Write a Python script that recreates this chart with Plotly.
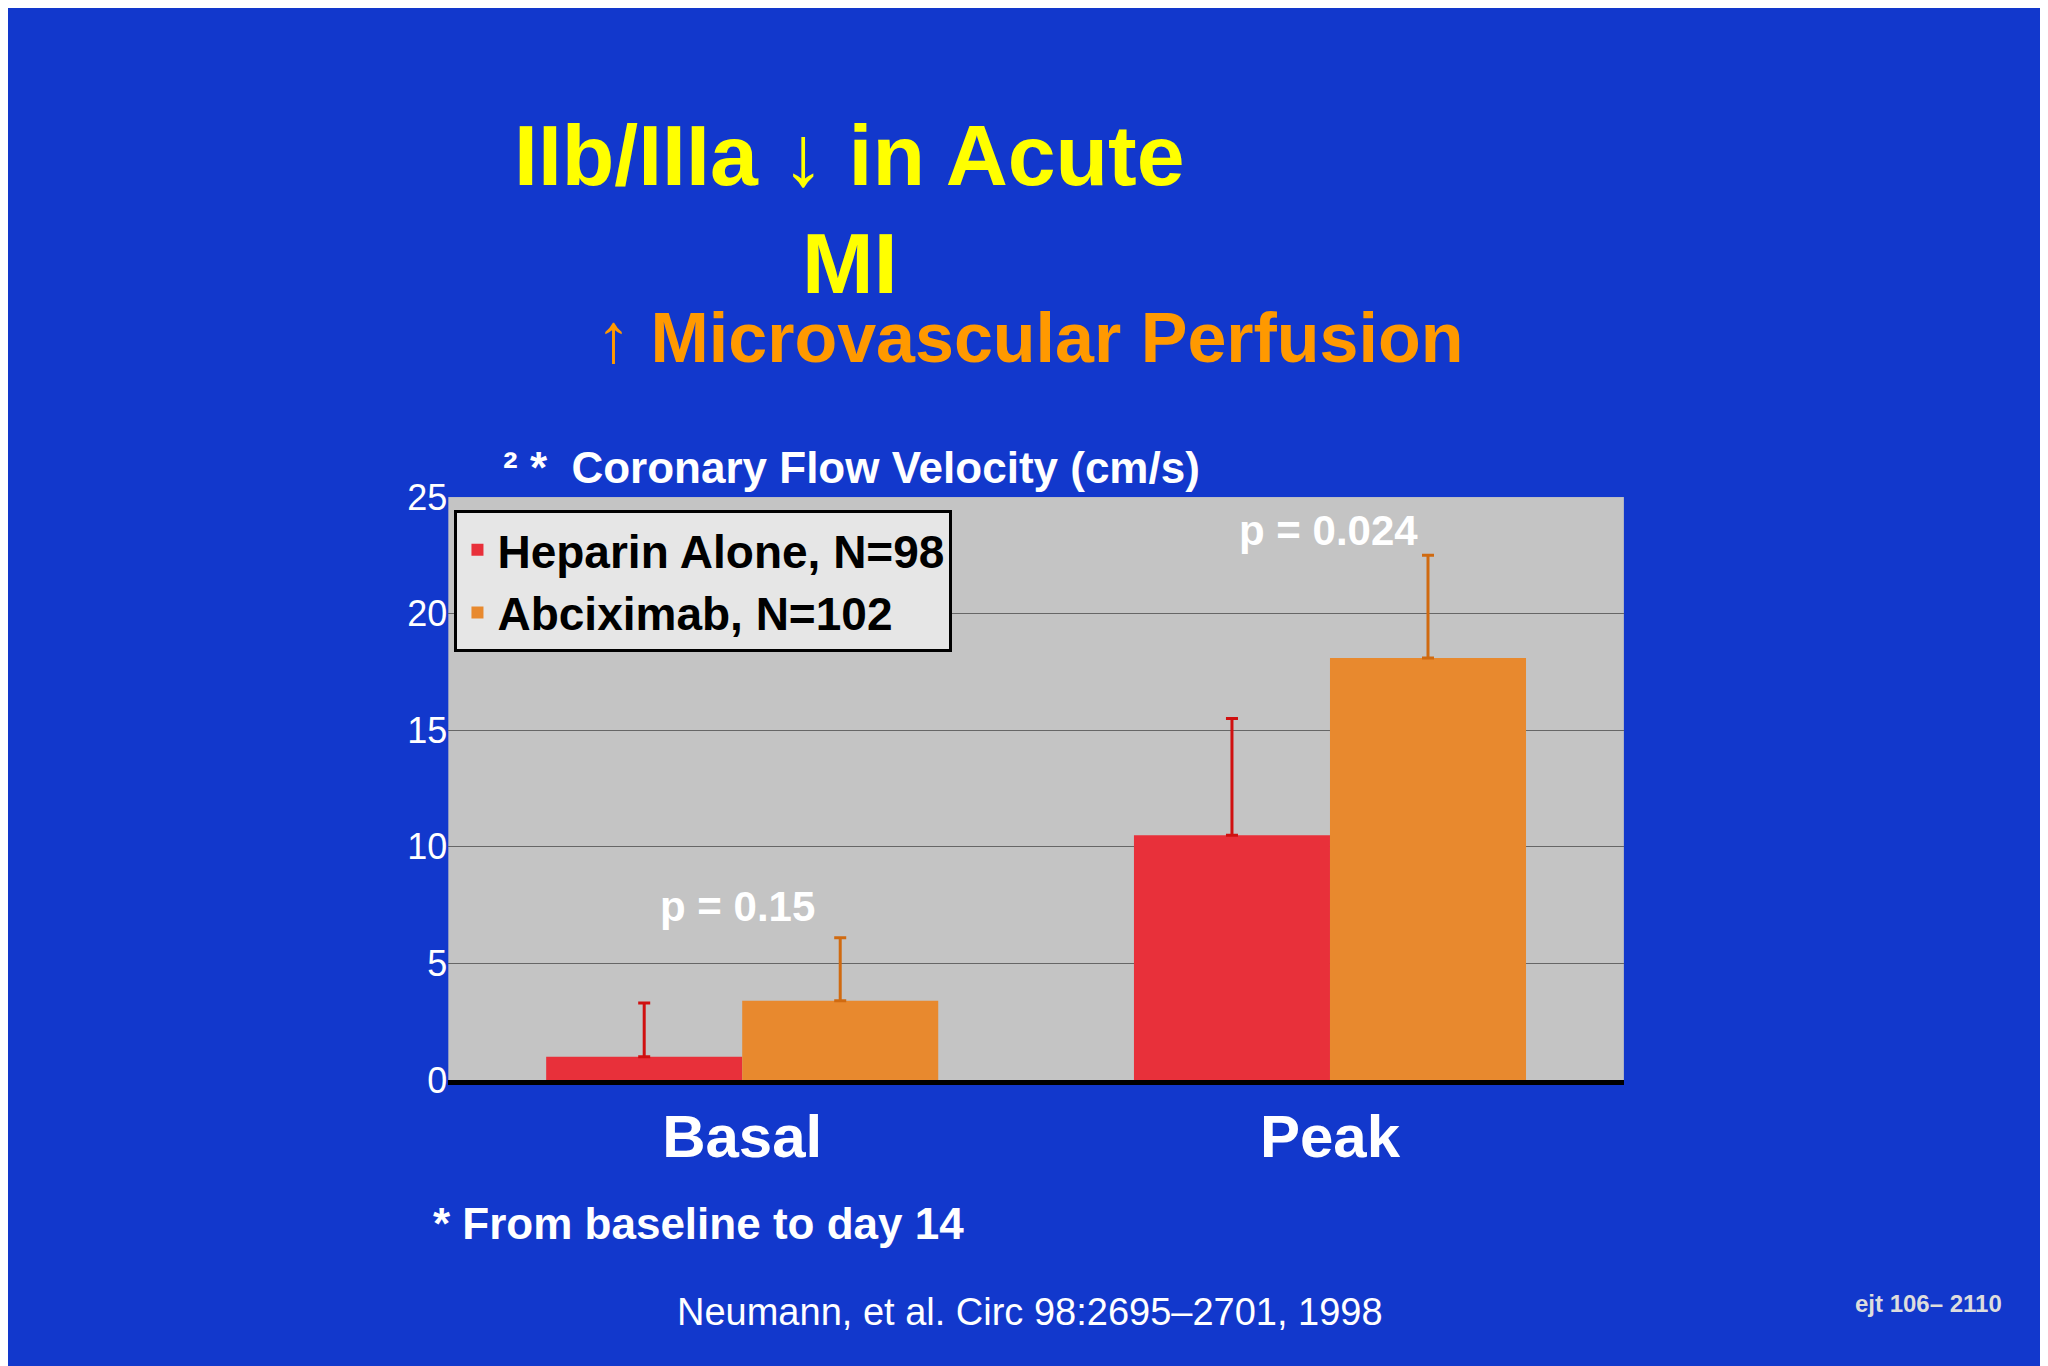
import plotly.graph_objects as go

categories = ["Basal", "Peak"]
heparin = [1.0, 10.5]
heparin_err = [2.3, 5.0]
abcix = [3.4, 18.1]
abcix_err = [2.7, 4.4]
pvals = ["p = 0.15", "p = 0.024"]
yticks = [0, 5, 10, 15, 20, 25]

fig = go.Figure()
fig.add_bar(x=categories, y=heparin, name="<b>Heparin Alone, N=98</b>",
            marker=dict(color="#e8303a", line=dict(width=0)),
            error_y=dict(type="data", array=heparin_err, arrayminus=[0, 0], symmetric=False,
                         color="#d01010", thickness=3, width=6))
fig.add_bar(x=categories, y=abcix, name="<b>Abciximab, N=102</b>",
            marker=dict(color="#e8892e", line=dict(width=0)),
            error_y=dict(type="data", array=abcix_err, arrayminus=[0, 0], symmetric=False,
                         color="#d06a10", thickness=3, width=6))

fig.update_layout(
    width=2048, height=1366, barmode="group", bargap=0.333, bargroupgap=0,
    paper_bgcolor="#1238cc", plot_bgcolor="#c4c4c4",
    margin=dict(l=0, r=0, t=0, b=0),
    font=dict(family="Liberation Sans, Arial", color="white"),
    xaxis=dict(domain=[0.215, 0.789], range=[-0.5, 1.5], showgrid=False,
               tickfont=dict(size=60, color="white", family="Liberation Sans, Arial Black"),
               ticks="", showline=True, linecolor="black", linewidth=5),
    yaxis=dict(domain=[0.206, 0.646], range=[0, 25], tickvals=yticks,
               gridcolor="#666666", gridwidth=1, tickfont=dict(size=36, color="white"),
               ticks="", zeroline=False),
    showlegend=True,
    legend=dict(x=0.218, y=0.636, xanchor="left", yanchor="top",
                bgcolor="#e6e6e6", bordercolor="black", borderwidth=3,
                font=dict(size=46, color="black", family="Liberation Sans, Arial"),
                itemsizing="constant", tracegroupgap=20),
)
fig.update_xaxes(tickprefix="<b>", ticksuffix="</b>")

ann = [
    dict(x=0.411, y=0.904, text="<b>IIb/IIIa ↓ in Acute</b>", size=86, color="#ffff00"),
    dict(x=0.411, y=0.823, text="<b>MI</b>", size=86, color="#ffff00"),
    dict(x=0.499, y=0.766, text="<b>↑ Microvascular Perfusion</b>", size=70, color="#ff9900"),
    dict(x=0.412, y=0.668, text="<b>² *  Coronary Flow Velocity (cm/s)</b>", size=44, color="white"),
    dict(x=0.356, y=0.337, text="<b>" + pvals[0] + "</b>", size=42, color="white"),
    dict(x=0.645, y=0.621, text="<b>" + pvals[1] + "</b>", size=42, color="white"),
    dict(x=0.337, y=0.098, text="<b>* From baseline to day 14</b>", size=44, color="white"),
    dict(x=0.499, y=0.031, text="Neumann, et al. Circ 98:2695–2701, 1998", size=38, color="white"),
    dict(x=0.9375, y=0.037, text="<b>ejt 106– 2110</b>", size=24, color="#dddddd"),
]
for a in ann:
    fig.add_annotation(x=a["x"], y=a["y"], xref="paper", yref="paper", text=a["text"],
                       xanchor="center", yanchor="middle",
                       showarrow=False, font=dict(size=a["size"], color=a["color"],
                                                  family="Liberation Sans, Arial"))

fig.write_html("out.html")
